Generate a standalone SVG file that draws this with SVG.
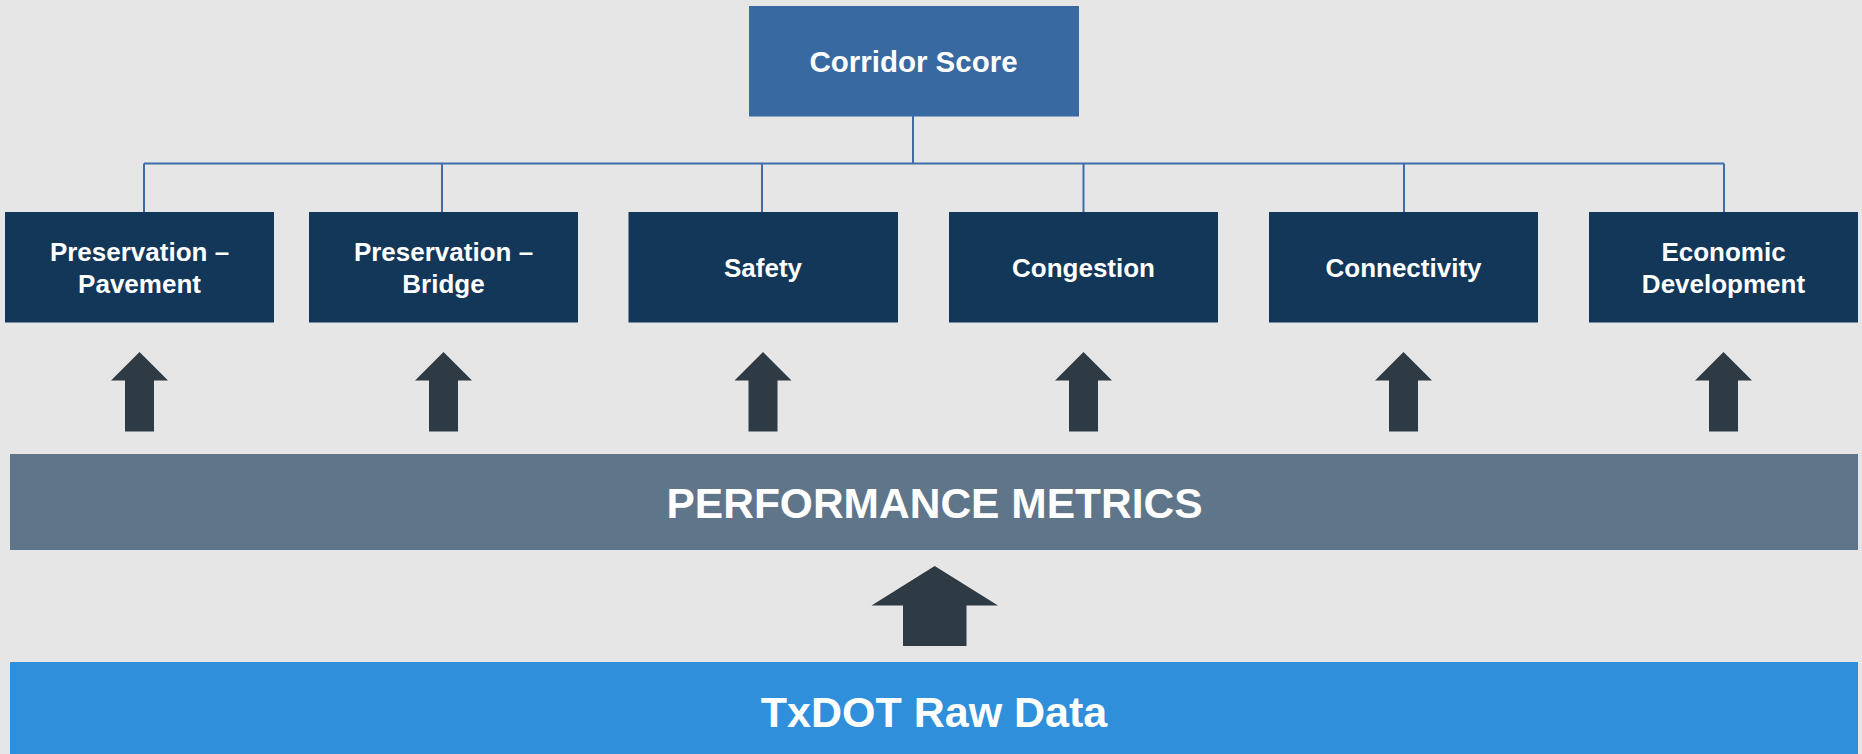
<svg xmlns="http://www.w3.org/2000/svg" width="1862" height="754" viewBox="0 0 1862 754">
<style>
.bg{fill:#e6e6e6}
.top{fill:#3869a1}
.cat{fill:#123759}
.t{font-family:"Liberation Sans",Arial,sans-serif;font-weight:bold;fill:#ffffff;text-anchor:middle}
.c{font-size:26px}
.arr{fill:#2e3a44}
.ln{stroke:#3e6ca8;stroke-width:2;fill:none}
</style>
<defs>
<path id="up" d="M0,0 L28.5,28.5 L14.5,28.5 L14.5,79.5 L-14.5,79.5 L-14.5,28.5 L-28.5,28.5 Z"/>
</defs>
<rect class="bg" x="0" y="0" width="1862" height="754"/>
<g id="connectors">
<path class="ln" d="M913,116 V163.5 M144,163.5 H1724 M144,163.5 V212 M442,163.5 V212 M762,163.5 V212 M1083.5,163.5 V212 M1404,163.5 V212 M1724,163.5 V212"/>
<use href="#up" class="arr" x="139.5" y="352"/>
<use href="#up" class="arr" x="443.5" y="352"/>
<use href="#up" class="arr" x="763" y="352"/>
<use href="#up" class="arr" x="1083.5" y="352"/>
<use href="#up" class="arr" x="1403.5" y="352"/>
<use href="#up" class="arr" x="1723.5" y="352"/>
<path class="arr" d="M934.7,566 L998,605.5 L966.5,605.5 L966.5,646 L903,646 L903,605.5 L871.5,605.5 Z"/>
</g>
<g id="corridor-score">
<rect class="top" x="749" y="6" width="330" height="110.5"/>
<text class="t" x="913.5" y="71.5" font-size="29.5">Corridor Score</text>
</g>
<g id="preservation-pavement">
<rect class="cat" x="5" y="212" width="269" height="110.5"/>
<text class="t c" x="139.5" y="261">Preservation –</text>
<text class="t c" x="139.5" y="292.5">Pavement</text>
</g>
<g id="preservation-bridge">
<rect class="cat" x="309" y="212" width="269" height="110.5"/>
<text class="t c" x="443.5" y="261">Preservation –</text>
<text class="t c" x="443.5" y="292.5">Bridge</text>
</g>
<g id="safety">
<rect class="cat" x="628.5" y="212" width="269.5" height="110.5"/>
<text class="t c" x="763" y="276.5">Safety</text>
</g>
<g id="congestion">
<rect class="cat" x="949" y="212" width="269" height="110.5"/>
<text class="t c" x="1083.5" y="276.5">Congestion</text>
</g>
<g id="connectivity">
<rect class="cat" x="1269" y="212" width="269" height="110.5"/>
<text class="t c" x="1403.5" y="276.5">Connectivity</text>
</g>
<g id="economic-development">
<rect class="cat" x="1589" y="212" width="269" height="110.5"/>
<text class="t c" x="1723.5" y="261">Economic</text>
<text class="t c" x="1723.5" y="292.5">Development</text>
</g>
<g id="performance-metrics">
<rect x="10" y="454" width="1848" height="96" fill="#5f7589"/>
<text class="t" x="934.5" y="518.3" font-size="42.5">PERFORMANCE METRICS</text>
</g>
<g id="txdot-raw-data">
<rect x="10" y="662" width="1848" height="92" fill="#308fdb"/>
<text class="t" x="934" y="726.7" font-size="43">TxDOT Raw Data</text>
</g>
</svg>
